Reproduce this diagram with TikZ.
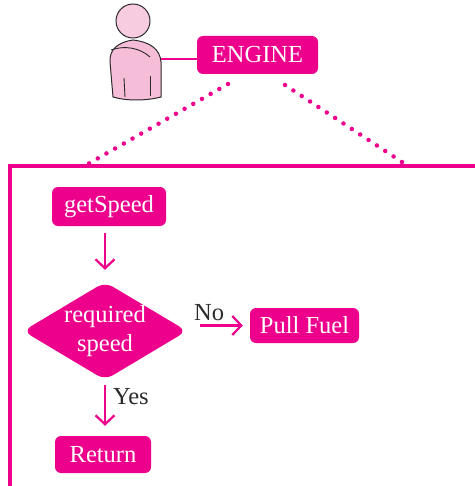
\documentclass[tikz,border=0pt]{standalone}
\usepackage{fontspec}
\setmainfont{Liberation Serif}
\usetikzlibrary{shapes.geometric,arrows.meta}
\definecolor{mag}{HTML}{EC008C}
\definecolor{skin}{HTML}{F5BDD7}
\definecolor{skinlight}{HTML}{F8CCE0}
\definecolor{ink}{HTML}{2B2B2B}
\tikzset{
  boxsty/.style={fill=mag, draw=none, rounded corners=6pt, text=white, inner sep=0pt,
    font=\fontsize{24.5}{29}\selectfont},
  decsty/.style={shape=diamond, fill=mag, draw=none, rounded corners=9pt, inner sep=0pt,
    minimum width=164pt, minimum height=98pt},
  dectext/.style={text=white, inner sep=0pt, align=center, font=\fontsize{24.5}{29}\selectfont},
  flow/.style={draw=mag, line width=2.2pt, -{Straight Barb[length=9pt,width=19pt,line width=2.2pt]}},
  lblsty/.style={text=ink, font=\fontsize{24.5}{29}\selectfont, inner sep=1pt},
  dotsty/.style={draw=mag, line width=4.5pt, line cap=round, dash pattern=on 0pt off 10pt},
}
\begin{document}
\begin{tikzpicture}[x=1pt,y=-1pt]
\useasboundingbox (0,0) rectangle (474,486);
% person
\node[circle, draw=ink, line width=1pt, fill=skinlight, minimum size=34pt, inner sep=0pt] (head) at (133,21) {};
\draw[ink, line width=1pt, fill=skin]
  (113,97) -- (110,62) .. controls (109,49) and (119,42) .. (133,40)
  .. controls (150,42) and (160,49) .. (161,62) -- (161,97)
  .. controls (146,101) and (126,101) .. (113,97) -- cycle;
\draw[ink, line width=0.9pt] (111,50) .. controls (125,45) and (140,48) .. (150,57);
\draw[ink, line width=0.9pt] (124,78) -- (125,97);
\draw[ink, line width=0.9pt] (150,76) -- (150,96);
\coordinate (person) at (161,59);
% engine
\node[boxsty, minimum width=121pt, minimum height=38pt] (engine) at (257.5,55) {ENGINE};
\draw[mag, line width=2pt] (person) -- (person -| engine.west);
% dotted lines
\coordinate (dl0) at (228,84);
\coordinate (dl1) at (88,164);
\coordinate (dr0) at (285,85);
\coordinate (dr1) at (405,164);
\draw[dotsty] (dl0) -- (dl1);
\draw[dotsty] (dr0) -- (dr1);
% frame
\draw[mag, line width=3.5pt] (476,166) -- (10,166) -- (10,490);
% flow
\node[boxsty, minimum width=114pt, minimum height=39pt] (gets) at (109,206.5) {getSpeed};
\node[decsty] (dec) at (105,331) {};
\node[dectext] (dect) at (dec.center) {required\\speed};
\node[boxsty, minimum width=109pt, minimum height=35pt] (pull) at (304.5,325.5) {Pull Fuel};
\node[boxsty, minimum width=96pt, minimum height=37pt] (ret) at (103,454.5) {Return};
\draw[flow, shorten <=7pt, shorten >=12pt] (dec.north |- gets.south) -- (dec.north);
\draw[flow, shorten <=13pt, shorten >=7pt] (dec.east |- pull.west) -- node[lblsty, pos=0.35, above=3pt] {No} (pull.west);
\draw[flow, shorten <=5pt, shorten >=10pt] (dec.south) -- node[lblsty, pos=0.3, right=6pt] {Yes} (dec.south |- ret.north);
\end{tikzpicture}
\end{document}
